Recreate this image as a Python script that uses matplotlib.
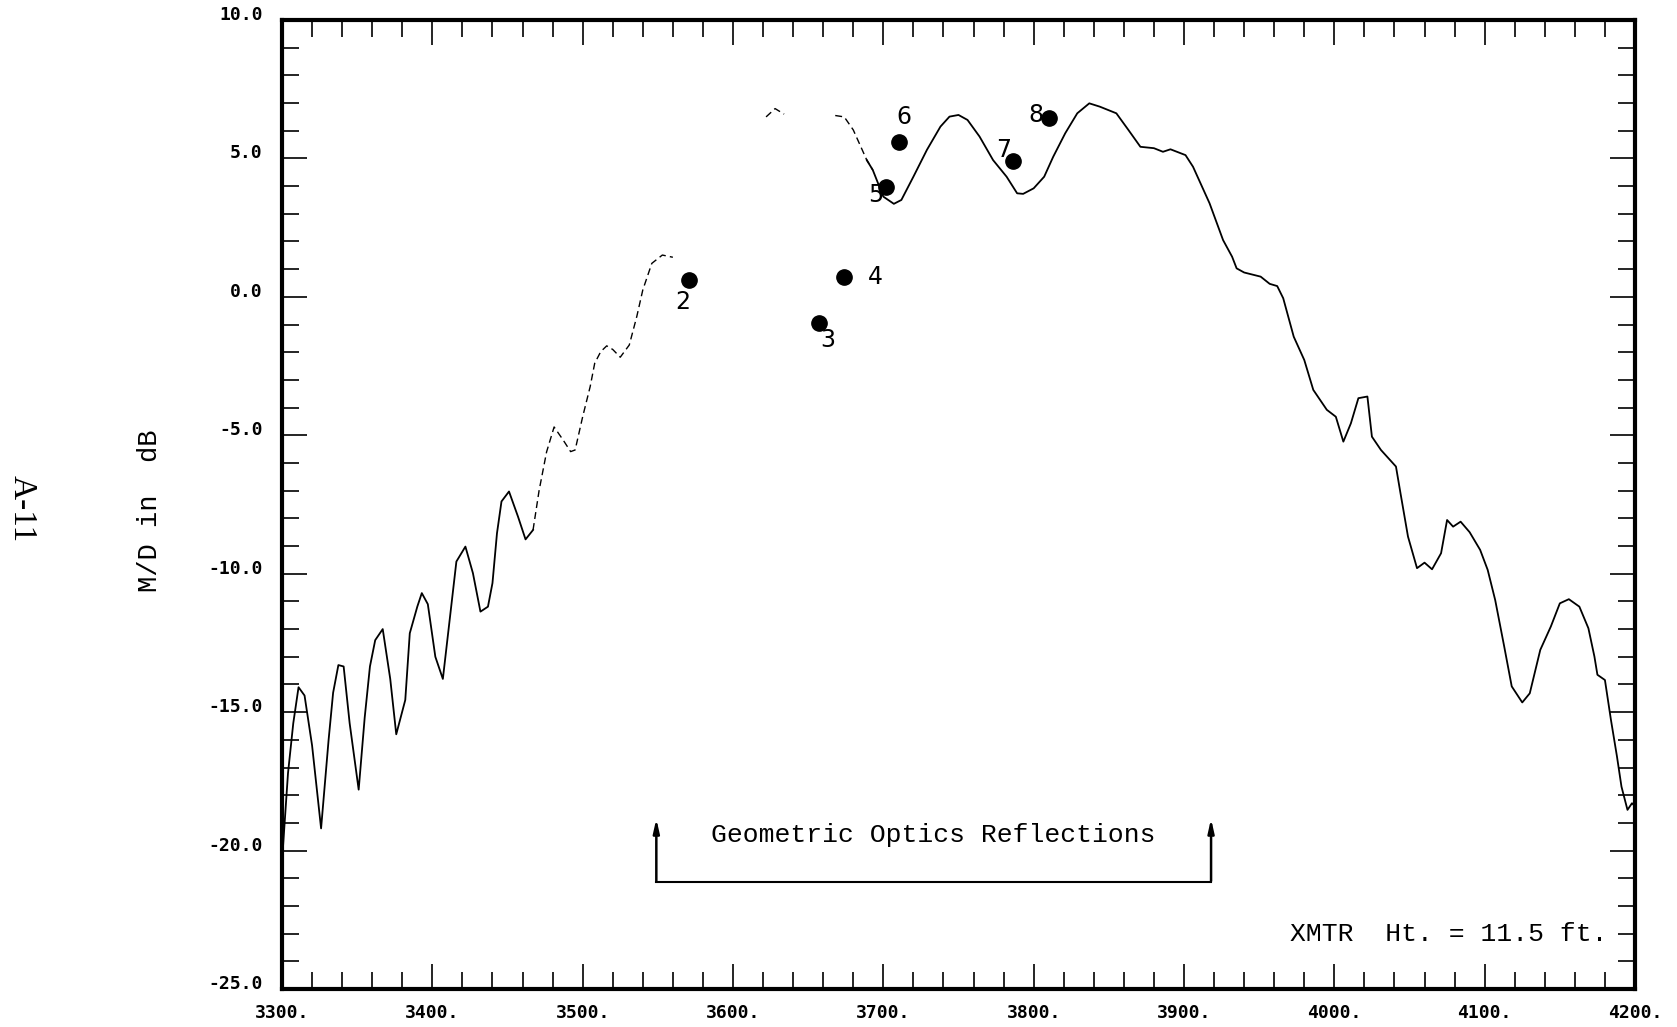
import numpy as np
import matplotlib
matplotlib.use("Agg")
import matplotlib.pyplot as plt
from matplotlib.ticker import MultipleLocator, FuncFormatter

# measured M/D curve (dB) vs distance, gaps where the trace is missing
freq = [3300, 3304, 3307.5, 3311, 3315, 3320, 3326, 3331, 3334, 3337.5, 3341, 3345, 3351,
        3355, 3358.5, 3362, 3367, 3372, 3376, 3382, 3385, 3390, 3393, 3397, 3402, 3407,
        3413, 3416, 3422, 3427, 3432, 3437, 3440, 3443, 3446, 3451, 3457, 3462, 3467,
        3471, 3476, 3481, 3487, 3492, 3495, 3500, 3505, 3508, 3512, 3516, 3520, 3525,
        3531, 3536, 3540, 3546, 3553, 3560,
        np.nan,
        3622, 3628, 3634,
        np.nan,
        3668, 3674, 3680, 3689, 3693, 3700, 3707, 3712, 3720, 3729, 3738, 3744, 3750,
        3756, 3764, 3773, 3782, 3789, 3793, 3800, 3807, 3813, 3821, 3829, 3837, 3844,
        3855, 3863, 3871, 3880, 3886, 3891, 3901, 3906, 3917, 3926, 3932, 3935, 3940,
        3951, 3957, 3962, 3966, 3973, 3980, 3986, 3995, 4001, 4006, 4011, 4016, 4022,
        4025, 4031, 4041, 4044, 4049, 4055, 4060, 4065, 4071, 4075, 4079, 4084, 4090,
        4097, 4102, 4107, 4113, 4118, 4125, 4130, 4137, 4144, 4150, 4156, 4163, 4169,
        4173, 4175, 4180, 4184, 4188, 4191, 4195, 4198, 4200]
md_db = [-20.4, -17.2, -15.4, -14.1, -14.4, -16.2, -19.2, -16.0, -14.3, -13.3, -13.35, -15.4, -17.8,
         -15.2, -13.35, -12.4, -12.0, -13.8, -15.8, -14.56, -12.15, -11.19, -10.7, -11.1, -13.0, -13.8,
         -10.95, -9.56, -9.02, -9.98, -11.37, -11.19, -10.34, -8.54, -7.39, -7.03, -7.94, -8.76, -8.42,
         -7.0, -5.6, -4.7, -5.17, -5.59, -5.53, -4.33, -3.24, -2.40, -1.98, -1.77, -1.9, -2.18,
         -1.74, -0.71, 0.25, 1.21, 1.51, 1.43,
         np.nan,
         6.5, 6.8, 6.6,
         np.nan,
         6.55, 6.5, 6.03, 4.94, 4.58, 3.62, 3.36, 3.50, 4.34, 5.31, 6.15, 6.51, 6.57,
         6.39, 5.79, 4.94, 4.34, 3.74, 3.72, 3.92, 4.34, 5.06, 5.91, 6.63, 6.99, 6.87,
         6.63, 6.03, 5.42, 5.37, 5.24, 5.33, 5.12, 4.70, 3.38, 2.05, 1.45, 1.03, 0.88,
         0.73, 0.47, 0.39, -0.05, -1.44, -2.28, -3.36, -4.08, -4.33, -5.23, -4.57, -3.66, -3.60,
         -5.05, -5.53, -6.13, -7.09, -8.66, -9.80, -9.60, -9.84, -9.26, -8.06, -8.30, -8.12, -8.5,
         -9.14, -9.86, -10.95, -12.63, -14.07, -14.65, -14.32, -12.75, -11.91, -11.07, -10.92, -11.19, -11.97,
         -12.99, -13.65, -13.84, -15.28, -16.60, -17.69, -18.53, -18.29, -18.4]

# geometric optics points
pt_x = [3571, 3657.5, 3674, 3701.5, 3710.5, 3786, 3810]
pt_y = [0.6, -0.93, 0.73, 3.98, 5.58, 4.91, 6.45]
pt_labels = ["2", "3", "4", "5", "6", "7", "8"]
lbl_x = [3566.6, 3662.8, 3694.5, 3695.2, 3713.4, 3779.9, 3801.7]
lbl_y = [-0.17, -1.56, 0.71, 3.68, 6.51, 5.31, 6.57]

fig = plt.figure(figsize=(16.77, 10.27), dpi=100)
ax = fig.add_axes([282 / 1677, 1 - 989 / 1027, (1635 - 282) / 1677, (989 - 20) / 1027])

freq = np.array(freq, dtype=float)
md_db = np.array(md_db, dtype=float)

# faint (dashed) stretches of the trace
faint = ((freq > 3470) & (freq < 3570)) | ((freq > 3615) & (freq < 3690))
solid_y = np.where(faint & ~((freq > 3685) & (freq < 3690)), np.nan, md_db)
ax.plot(freq, solid_y, color="black", lw=1.3)
faint_y = np.where(faint | np.roll(faint, 1) | np.roll(faint, -1), md_db, np.nan)
ax.plot(freq, faint_y, color="black", lw=1.0, linestyle=(0, (5, 3)))

ax.plot(pt_x, pt_y, "o", color="black", ms=11)
for x, y, s in zip(lbl_x, lbl_y, pt_labels):
    ax.text(x, y, s, fontsize=17, family="DejaVu Sans", ha="center", va="center")

# bracket for the geometric optics region
left, right = 3549, 3918
ax.plot([left, right], [-21.14, -21.14], color="black", lw=1.5)
for xx in (left, right):
    ax.annotate("", xy=(xx, -18.75), xytext=(xx, -21.2),
                arrowprops=dict(arrowstyle="-|>,head_length=0.8,head_width=0.18",
                                color="black", lw=1.8))
ax.text(3733, -19.45, "Geometric Optics Reflections", fontsize=19,
        family="Liberation Mono", ha="center", va="center")
ax.text(4182, -23.0, "XMTR  Ht. = 11.5 ft.", fontsize=19,
        family="Liberation Mono", ha="right", va="center")

ax.set_xlim(3300, 4200)
ax.set_ylim(-25, 10)
ax.xaxis.set_major_locator(MultipleLocator(100))
ax.xaxis.set_minor_locator(MultipleLocator(20))
ax.yaxis.set_major_locator(MultipleLocator(5))
ax.yaxis.set_minor_locator(MultipleLocator(1))
ax.xaxis.set_major_formatter(FuncFormatter(lambda v, p: f"{int(round(v))}."))
ax.yaxis.set_major_formatter(FuncFormatter(lambda v, p: f"{v:.1f}"))
ax.tick_params(which="both", direction="in", top=True, right=True, width=1.2)
ax.tick_params(which="major", length=18)
ax.tick_params(which="minor", length=12)
ax.tick_params(axis="x", pad=11)
ax.tick_params(axis="y", pad=14)
for lab in ax.get_xticklabels() + ax.get_yticklabels():
    lab.set_family("DejaVu Sans Mono")
    lab.set_weight("bold")
    lab.set_fontsize(13)
for lab in ax.get_yticklabels():
    lab.set_va("baseline")
for sp in ax.spines.values():
    sp.set_linewidth(3)

fig.text(150 / 1677, 1 - 511 / 1027, "M/D in  dB", rotation=90, fontsize=19.5,
         family="Liberation Mono", ha="center", va="center")
fig.text(22 / 1677, 1 - 509 / 1027, "A-11", rotation=-90, fontsize=24,
         family="Liberation Serif", ha="center", va="center")

fig.savefig("out.png", dpi=100)
